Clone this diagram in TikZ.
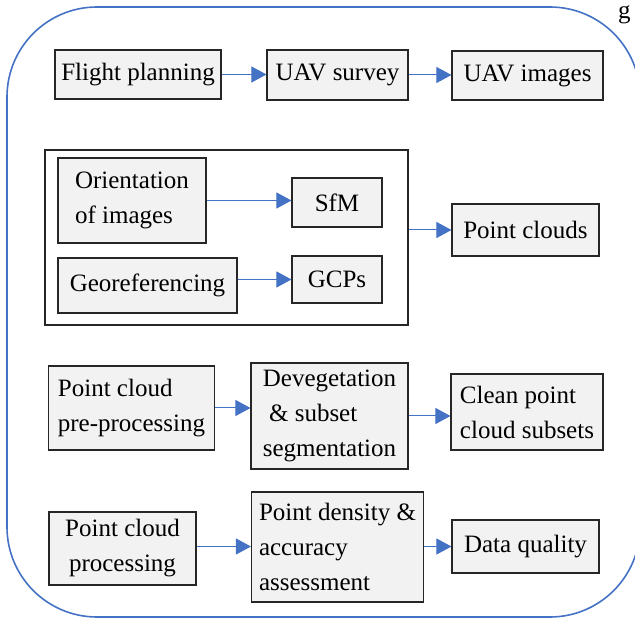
\documentclass[tikz,border=0pt]{standalone}
\usepackage{fontspec}
\setmainfont{Liberation Serif}
\usetikzlibrary{arrows.meta}
\definecolor{flowblue}{HTML}{4472C4}
\definecolor{boxgray}{HTML}{F2F2F2}

\begin{document}
\begin{tikzpicture}[x=1pt,y=-1pt]
  \tikzset{stage/.style={draw=black!85,line width=1.1pt,fill=boxgray,font=\fontsize{25}{35}\selectfont,align=left,inner sep=3pt},
    flow/.style={draw=flowblue,line width=1pt,-{Triangle[length=15pt,width=16pt,fill=flowblue]}}}
  \useasboundingbox (0,0) rectangle (635,620);

  \draw[flowblue,line width=1.6pt,rounded corners=90pt] (7,7) rectangle (640,617);
  \node[anchor=north west,inner sep=0pt,font=\fontsize{25}{30}\selectfont] at (618,5) (pagemark) {g};

  % acquisition
  \node[stage,minimum width=166pt,minimum height=49pt] at (138,74.5) (plan) {Flight planning};
  \node[stage,minimum width=141pt,minimum height=50pt] at (337.5,75) (survey) {UAV survey};
  \node[stage,minimum width=151pt,minimum height=49pt] at (527.5,75.5) (images) {UAV images};

  % photogrammetry
  \node[draw=black!85,line width=1.1pt,minimum width=363pt,minimum height=175pt] at (226.5,237.5) (group) {};
  \node[stage,minimum width=148pt,minimum height=85pt] at (132,200.5) (orient) {Orientation\\of images};
  \node[stage,minimum width=90pt,minimum height=49pt] at (337,202.5) (sfm) {SfM};
  \node[stage,minimum width=179pt,minimum height=55pt] at (147.5,285.5) (georef) {Georeferencing};
  \node[stage,minimum width=90pt,minimum height=47pt] at (337,279.5) (gcps) {GCPs};
  \node[stage,minimum width=147pt,minimum height=52pt] at (525.5,230) (clouds) {Point clouds};

  % pre-processing
  \node[stage,minimum width=166pt,minimum height=84pt] at (131.5,408) (preproc) {Point cloud\\pre-processing};
  \node[stage,minimum width=157pt,minimum height=106pt] at (329.5,416) (deveg) {Devegetation\\\ \& subset\\segmentation};
  \node[stage,minimum width=152pt,minimum height=76pt] at (527,412) (clean) {Clean point\\cloud subsets};

  % processing
  \node[stage,align=center,minimum width=147pt,minimum height=73pt] at (122.5,548.5) (proc) {Point cloud\\processing};
  \node[stage,minimum width=172pt,minimum height=110pt] at (337.5,547) (density) {Point density \&\\accuracy\\assessment};
  \node[stage,minimum width=147pt,minimum height=53pt] at (525.5,546.5) (quality) {Data quality};

  \draw[flow] (plan) -- (plan -| survey.west);
  \draw[flow] (survey) -- (survey -| images.west);
  \draw[flow] (orient) -- (orient -| sfm.west);
  \draw[flow] (georef.east |- gcps) -- (gcps);
  \draw[flow] (group.east |- clouds) -- (clouds);
  \draw[flow] (preproc) -- (preproc -| deveg.west);
  \draw[flow] (deveg) -- (deveg -| clean.west);
  \draw[flow] (proc.east |- quality) -- (proc.east |- quality -| density.west);
  \draw[flow] (density.east |- quality) -- (quality);
\end{tikzpicture}
\end{document}
